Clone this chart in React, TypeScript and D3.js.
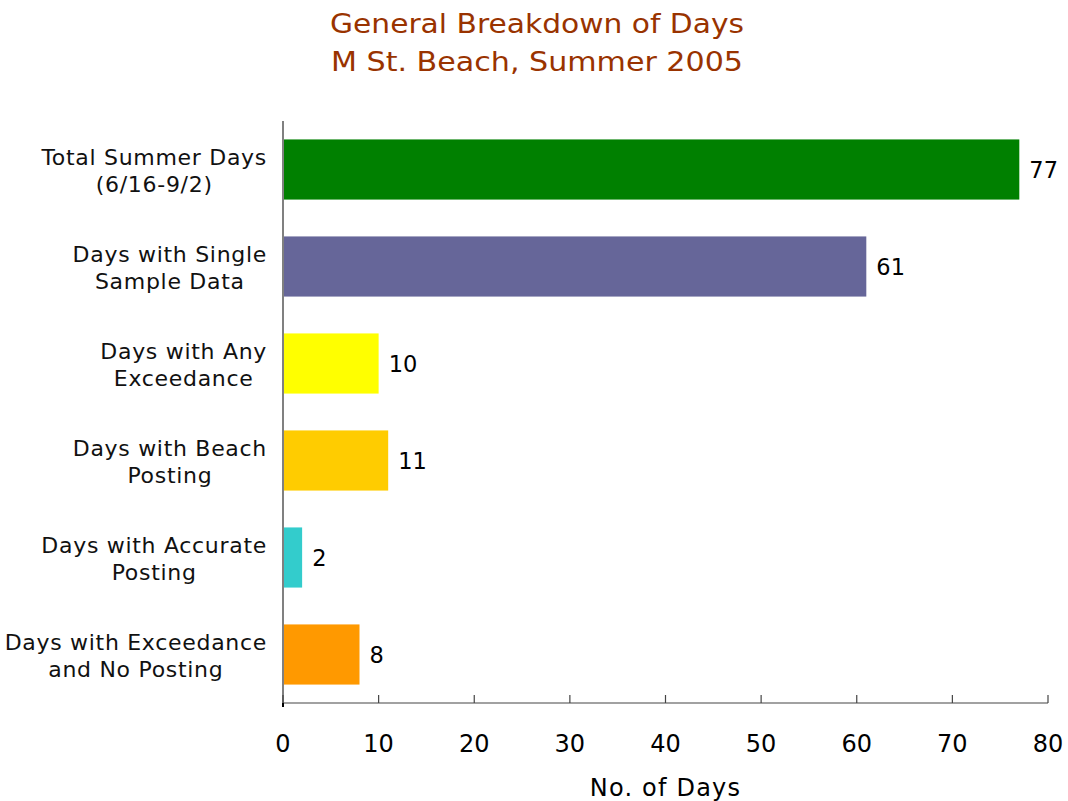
import React from "react";
import * as d3 from "d3";

const categories: string[][] = [
  ["Total Summer Days", "(6/16-9/2)"],
  ["Days with Single", "Sample Data"],
  ["Days with Any", "Exceedance"],
  ["Days with Beach", "Posting"],
  ["Days with Accurate", "Posting"],
  ["Days with Exceedance", "and No Posting"],
];
const values: number[] = [77, 61, 10, 11, 2, 8];
const barColors: string[] = ["#008000", "#666699", "#FFFF00", "#FFCC00", "#33CCCC", "#FF9900"];
const xTicks: number[] = [0, 10, 20, 30, 40, 50, 60, 70, 80];
const titleLines: string[] = ["General Breakdown of Days", "M St. Beach, Summer 2005"];
const xAxisTitle = "No. of Days";

const W = 1068;
const H = 801;
const FONT = "'DejaVu Sans', Verdana, sans-serif";
const LABEL_SIZE = 22;
const LABEL_SPACING = 0.7;

let ctx: CanvasRenderingContext2D | null = null;
function measure(s: string): number {
  if (!ctx) {
    const c = document.createElement("canvas");
    ctx = c.getContext("2d");
  }
  if (!ctx) return s.length * LABEL_SIZE * 0.6;
  ctx.font = `${LABEL_SIZE}px 'DejaVu Sans'`;
  return ctx.measureText(s).width + LABEL_SPACING * s.length;
}

export default function App() {
  const x = d3.scaleLinear().domain([0, 80]).range([283, 1048]);
  const ids = categories.map((_, i) => String(i));
  const y = d3.scaleBand<string>().domain(ids).range([121, 703]).paddingInner(0.38).paddingOuter(0.19);
  const x0 = x(0);
  const axisY = 703;
  const labelRight = 267;

  return (
    <svg
      width={W}
      height={H}
      style={{ position: "absolute", left: 0, top: 0, background: "#fff" }}
    >
      {titleLines.map((t, i) => (
        <text
          key={t}
          x={537}
          y={33 + i * 38}
          textAnchor="middle"
          fontFamily={FONT}
          fontSize={26}
          fill="#993300"
          textLength={i === 0 ? 414 : 412}
          lengthAdjust="spacingAndGlyphs"
        >
          {t}
        </text>
      ))}

      {values.map((v, i) => {
        const yy = y(String(i))!;
        const bw = y.bandwidth();
        const maxW = Math.max(...categories[i].map(measure));
        const cx = labelRight - maxW / 2;
        return (
          <g key={i}>
            <rect x={x0} y={yy} width={x(v) - x0} height={bw} fill={barColors[i]} />
            <text
              x={x(v) + 10}
              y={yy + bw / 2 + 8}
              fontFamily={FONT}
              fontSize={22.5}
              fill="#000"
            >
              {v}
            </text>
            {categories[i].map((line, j) => (
              <text
                key={j}
                x={cx}
                y={yy + bw / 2 - 5 + j * 27.5}
                textAnchor="middle"
                fontFamily={FONT}
                fontSize={LABEL_SIZE}
                letterSpacing={LABEL_SPACING}
                fill="#111"
              >
                {line}
              </text>
            ))}
          </g>
        );
      })}

      {/* y axis */}
      <line x1={x0} x2={x0} y1={121} y2={axisY} stroke="#808080" strokeWidth={2} />
      {/* x axis */}
      <line x1={x0} x2={x(80)} y1={axisY} y2={axisY} stroke="#444" strokeWidth={1.2} />
      {xTicks.map((t) => (
        <g key={t}>
          <line x1={x(t)} x2={x(t)} y1={axisY - 8} y2={axisY} stroke="#444" strokeWidth={1.2} />
          <text
            x={x(t)}
            y={752}
            textAnchor="middle"
            fontFamily={FONT}
            fontSize={24}
            fill="#000"
          >
            {t}
          </text>
        </g>
      ))}
      <line x1={x0} x2={x0} y1={axisY} y2={axisY + 4} stroke="#000" strokeWidth={2} />
      <text
        x={(x(0) + x(80)) / 2}
        y={796}
        textAnchor="middle"
        fontFamily={FONT}
        fontSize={24}
        letterSpacing={1.2}
        fill="#000"
      >
        {xAxisTitle}
      </text>
    </svg>
  );
}
